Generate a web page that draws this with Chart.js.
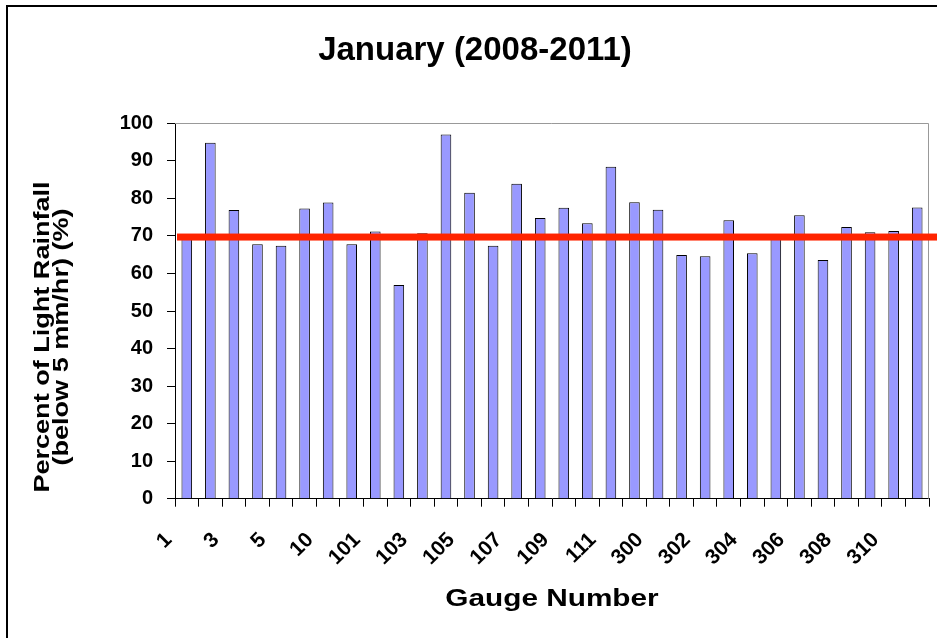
<!DOCTYPE html>
<html>
<head>
<meta charset="utf-8">
<script src="https://cdn.jsdelivr.net/npm/chart.js@4.4.1/dist/chart.umd.min.js"></script>
<style>
  html, body { margin: 0; padding: 0; background: #fff; }
  #wrap { width: 937px; height: 638px; }
</style>
</head>
<body>
<div id="wrap"><canvas id="c" width="937" height="638"></canvas></div>
<script>
// ---- data ----
const gauges = ['1','2','3','4','5','6','10','11','101','102','103','104','105','106','107','108',
                '109','110','111','112','300','301','302','303','304','305','306','307','308','309','310','311'];
const lightRainPct = [69.5, 94.8, 76.9, 67.8, 67.4, 77.3, 78.9, 67.8, 71.2, 56.9, 70.7, 97.0, 81.5, 67.4, 83.9, 74.8,
                      77.5, 73.4, 88.4, 79.0, 77.0, 64.9, 64.6, 74.2, 65.4, 69.8, 75.5, 63.6, 72.4, 71.0, 71.3, 77.6];
const averagePct = [69.7];
const chartTitle = 'January (2008-2011)';
const yTitleLines = ['Percent of Light Rainfall', '(below 5 mm/hr) (%)'];
const xTitle = 'Gauge Number';

const FONT = "'Liberation Sans', Arial, sans-serif";

const decor = {
  id: 'decor',
  beforeDraw(chart) {
    const ctx = chart.ctx;
    ctx.save();
    ctx.fillStyle = '#fff';
    ctx.fillRect(0, 0, chart.width, chart.height);
    ctx.fillStyle = '#000';
    ctx.fillRect(6, 5, 2, chart.height - 5);
    ctx.fillRect(6, 5, chart.width - 6, 2);
    ctx.restore();
  },
  beforeDatasetsDraw(chart) {
    const ctx = chart.ctx, a = chart.chartArea;
    ctx.save();
    ctx.strokeStyle = '#999';
    ctx.lineWidth = 1;
    ctx.beginPath();
    ctx.moveTo(a.left, Math.round(a.top) + 0.5);
    ctx.lineTo(Math.round(a.right) - 0.5, Math.round(a.top) + 0.5);
    ctx.lineTo(Math.round(a.right) - 0.5, a.bottom);
    ctx.stroke();
    ctx.restore();
  },
  afterDatasetsDraw(chart) {
    const ctx = chart.ctx, a = chart.chartArea;
    const y = chart.scales.y.getPixelForValue(averagePct[0]);
    ctx.save();
    ctx.fillStyle = '#ff2400';
    ctx.fillRect(a.left + 2, y - 3.5, chart.width - a.left - 2, 7);
    ctx.restore();
  },
  afterDraw(chart) {
    const ctx = chart.ctx, a = chart.chartArea;
    ctx.save();
    ctx.fillStyle = '#000';
    ctx.textAlign = 'center';
    ctx.textBaseline = 'middle';
    ctx.font = 'bold 22px ' + FONT;
    const cy = 337;
    const xs = [43, 62];
    yTitleLines.forEach((t, i) => {
      ctx.save();
      ctx.translate(xs[i], cy);
      ctx.rotate(-Math.PI / 2);
      ctx.scale(1.23, 1);
      ctx.fillText(t, 0, 0);
      ctx.restore();
    });
    ctx.font = 'bold 24px ' + FONT;
    ctx.save();
    ctx.translate((a.left + a.right) / 2, 599);
    ctx.scale(1.24, 1);
    ctx.fillText(xTitle, 0, 0);
    ctx.restore();
    ctx.restore();
  }
};

new Chart(document.getElementById('c'), {
  type: 'bar',
  data: {
    labels: gauges,
    datasets: [{
      data: lightRainPct,
      backgroundColor: '#9999ff',
      borderColor: '#000',
      borderWidth: 1,
      barPercentage: 0.45,
      categoryPercentage: 1.0
    }]
  },
  options: {
    responsive: false,
    devicePixelRatio: 1,
    animation: false,
    layout: { padding: { left: 21, right: 8, top: 0, bottom: 0 } },
    plugins: {
      legend: { display: false },
      tooltip: { enabled: false },
      title: {
        display: true,
        text: chartTitle,
        color: '#000',
        font: { family: FONT, size: 33, weight: 'bold', lineHeight: 1.2 },
        padding: { top: 31, bottom: 52.7 }
      }
    },
    scales: {
      x: {
        offset: true,
        grid: { display: true, drawOnChartArea: false, offset: true, color: '#000', tickLength: 8, tickWidth: 1 },
        border: { display: true, color: '#000', width: 1 },
        ticks: {
          autoSkip: false,
          maxRotation: 45,
          minRotation: 45,
          padding: 21,
          labelOffset: -18,
          color: '#000',
          font: { family: FONT, size: 21, weight: 'bold' },
          callback: function(v, i) { return i % 2 === 0 ? this.getLabelForValue(v) : ''; }
        },
        afterFit(s) { s.height = 139.3; s.paddingRight = 0; s.paddingLeft = 0; }
      },
      y: {
        min: 0, max: 100,
        grid: { display: true, drawOnChartArea: false, color: '#000', tickLength: 8 },
        border: { display: true, color: '#000', width: 1 },
        ticks: {
          stepSize: 10,
          padding: 14,
          color: '#000',
          font: { family: FONT, size: 20, weight: 'bold' }
        },
        afterFit(s) { s.width = 154; }
      }
    }
  },
  plugins: [decor]
});
</script>
</body>
</html>
